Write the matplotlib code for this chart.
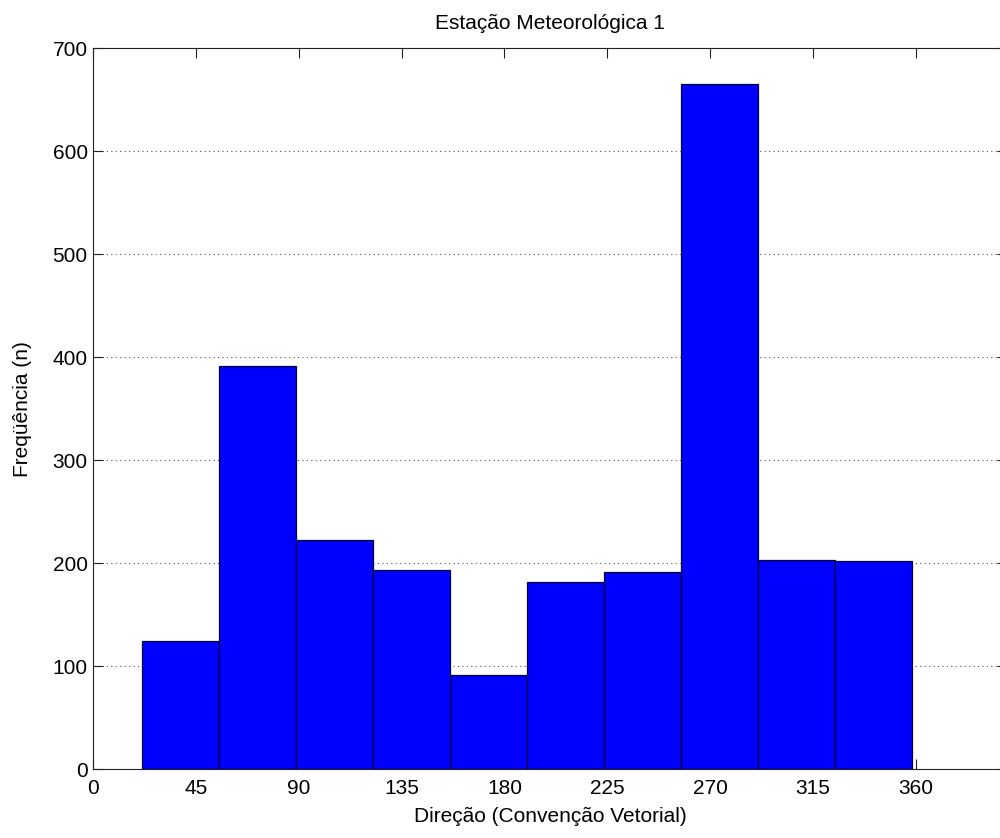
import matplotlib
matplotlib.use("Agg")
import matplotlib.pyplot as plt
import numpy as np

# histogram data
dir_min, dir_max = 21.2, 358.6
counts = [124, 391, 222, 193, 91, 182, 191, 665, 203, 202]
xticks = [0, 45, 90, 135, 180, 225, 270, 315, 360]
yticks = [0, 100, 200, 300, 400, 500, 600, 700]

fs = 15
plt.rcParams.update({
    "font.family": ["Liberation Sans", "DejaVu Sans"],
    "font.size": fs,
})

edges = np.linspace(dir_min, dir_max, len(counts) + 1)

fig = plt.figure(figsize=(10, 8.38), dpi=100)
ax = fig.add_axes([0.0933, 0.0823, 0.9137, 0.8601])

ax.bar(edges[:-1], counts, width=np.diff(edges), align="edge",
       color="#0000ff", edgecolor="#000033", linewidth=0.9, zorder=2)

ax.set_xlim(0, 400)
ax.set_ylim(0, 700)
ax.set_xticks(xticks)
ax.set_yticks(yticks)
ax.tick_params(direction="in", length=7, width=0.8, top=True, right=True,
               labelsize=fs, colors="#222222", labelcolor="black")
ax.tick_params(axis="x", pad=7)
ax.tick_params(axis="y", pad=4)
ax.yaxis.grid(True, linestyle=(0, (1, 3)), color="#555555", linewidth=0.8, zorder=0)
ax.set_axisbelow(True)
for sp in ax.spines.values():
    sp.set_color("#222222")
    sp.set_linewidth(0.8)

ax.set_title("Estação Meteorológica 1", fontsize=fs, pad=14)
ax.set_xlabel("Direção (Convenção Vetorial)", fontsize=fs, labelpad=7)
ax.set_ylabel("Freqüência (n)", fontsize=fs, labelpad=15)

fig.savefig("out.png", dpi=100)
